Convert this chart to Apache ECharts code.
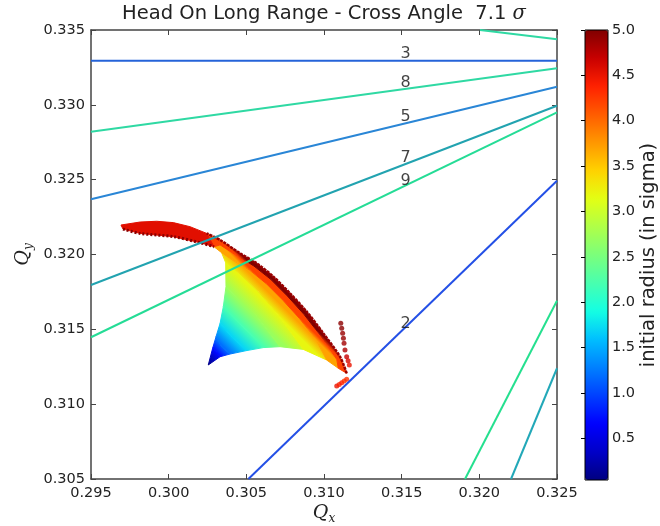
<!DOCTYPE html>
<html>
<head>
<meta charset="utf-8">
<script src="https://cdn.jsdelivr.net/npm/echarts@6/dist/echarts.min.js"></script>
<style>
  html, body { margin: 0; padding: 0; background: #fff; }
  #chart { width: 660px; height: 526px; }
</style>
</head>
<body>
<div id="chart"></div>
<script>
// resonance lines (start / end points in tune space)
const resonanceStartQx = [0.295, 0.295, 0.295, 0.295, 0.295, 0.30513, 0.32004, 0.31908, 0.32204];
const resonanceStartQy = [0.33295, 0.32820, 0.32369, 0.31796, 0.31447, 0.305, 0.335, 0.305, 0.305];
const resonanceEndQx = [0.325, 0.325, 0.325, 0.325, 0.325, 0.325, 0.325, 0.325, 0.325];
const resonanceEndQy = [0.33295, 0.33245, 0.33121, 0.32994, 0.32950, 0.32493, 0.33438, 0.31691, 0.31240];
const resonanceColors = ["#2563d9", "#2fd9a3", "#2a86d6", "#22a3b0", "#25dc96", "#2450e6", "#2fd9a3", "#25e08f", "#22a8b8"];

// order labels
const orderLabels = ["3", "8", "5", "7", "9", "2"];
const orderQx = [0.31526, 0.31526, 0.31526, 0.31526, 0.31526, 0.31526];
const orderQy = [0.33340, 0.33148, 0.32917, 0.32643, 0.32493, 0.31534];

// tune footprint: traced contours of equal initial radius (sigma)
const footprintLevels = [0.05, 0.7, 1.2, 1.7, 2.2, 2.7, 3.2, 3.7, 4.2, 5.0];
const footprintQx = [
  [0.30255],
  [0.30331, 0.30305, 0.30283],
  [0.30395, 0.30341, 0.30305],
  [0.30502, 0.30406, 0.30331],
  [0.30610, 0.30481, 0.30352],
  [0.30717, 0.30567, 0.30459, 0.30369],
  [0.30867, 0.30706, 0.30577, 0.30459, 0.30367],
  [0.31017, 0.30951, 0.30843, 0.30736, 0.30629, 0.30522, 0.30414, 0.30341],
  [0.31092, 0.31082, 0.30979, 0.30871, 0.30764, 0.30657, 0.30549, 0.30442, 0.30331, 0.30292],
  [0.31146, 0.31103, 0.30996, 0.30889, 0.30781, 0.30674, 0.30567, 0.30459, 0.30331, 0.30245]
];
const footprintQy = [
  [0.31262],
  [0.31317, 0.31351, 0.31373],
  [0.31335, 0.31384, 0.31451],
  [0.31358, 0.31451, 0.31540],
  [0.31378, 0.31518, 0.31652],
  [0.31384, 0.31585, 0.31696, 0.31785],
  [0.31366, 0.31596, 0.31752, 0.31870, 0.31945],
  [0.31295, 0.31427, 0.31571, 0.31694, 0.31805, 0.31894, 0.31961, 0.32012],
  [0.31240, 0.31300, 0.31456, 0.31600, 0.31723, 0.31834, 0.31923, 0.31990, 0.32064, 0.32052],
  [0.31206, 0.31317, 0.31473, 0.31618, 0.31741, 0.31852, 0.31941, 0.32008, 0.32097, 0.32141]
];

// folded high-amplitude tail (upper left)
const tailQx = [0.30245, 0.30137, 0.30030, 0.29923, 0.29816, 0.29693, 0.29706, 0.29816, 0.30030, 0.30202, 0.30292];
const tailQy = [0.32141, 0.32186, 0.32213, 0.32222, 0.32217, 0.32197, 0.32170, 0.32141, 0.32119, 0.32079, 0.32052];
const tailRadius = 4.55;

// stray particles near the right tip
const armQx = [0.31108, 0.31114, 0.31120, 0.31125, 0.31129, 0.31135, 0.31146, 0.31155, 0.31163, 0.31082, 0.31098, 0.31114, 0.31130, 0.31146];
const armQy = [0.31540, 0.31507, 0.31473, 0.31440, 0.31407, 0.31362, 0.31317, 0.31290, 0.31262, 0.31121, 0.31132, 0.31143, 0.31155, 0.31166];
const armRadius = [4.95, 4.95, 4.9, 4.9, 4.85, 4.8, 4.7, 4.6, 4.5, 4.5, 4.4, 4.4, 4.3, 4.3];

// axis ticks
const colorbarTicks = [0.5, 1.0, 1.5, 2.0, 2.5, 3.0, 3.5, 4.0, 4.5, 5.0];
const cbMin = 0.04;
const cbMax = 5;

const jet = ["#000080", "#0000c8", "#0000ff", "#0040ff", "#0080ff", "#00bfff", "#14ffe3", "#48ffaf",
  "#7bff7b", "#afff48", "#e3ff14", "#ffd200", "#ff9700", "#ff5c00", "#ff2100", "#c80000", "#800000"];
const jetColor = (r) => echarts.color.lerp(Math.min(1, Math.max(0, (r - cbMin) / (cbMax - cbMin))), jet);

const chart = echarts.init(document.getElementById("chart"));

const curves = footprintQx.map((xs, i) => xs.map((x, k) => [x, footprintQy[i][k]]));
const tailPts = tailQx.map((x, k) => [x, tailQy[k]]);
const outerEdge = curves[curves.length - 1];
const tailLower = tailPts.slice(6);
const armDots = armQx.map((x, k) => [x, armQy[k], armRadius[k]]);

// shading direction across the contours (screen up-right)
const ux = Math.SQRT1_2, uy = -Math.SQRT1_2;
function meanProj(px) {
  let s = 0;
  px.forEach((p) => { s += p[0] * ux + p[1] * uy; });
  return s / px.length;
}

const axisFont = "DejaVu Sans";
const frame = { show: true, lineStyle: { color: "#444", width: 1.5 } };
const ticks = { show: true, inside: true, length: 5, lineStyle: { color: "#444", width: 1 } };
const nameRich = {
  q: { fontFamily: "DejaVu Serif", fontStyle: "italic", fontSize: 19, color: "#222", lineHeight: 24 },
  s: { fontFamily: "DejaVu Serif", fontStyle: "italic", fontSize: 12, color: "#222", lineHeight: 12, verticalAlign: "bottom" }
};

const series = [
  {
    type: "custom",
    xAxisIndex: 0,
    yAxisIndex: 0,
    z: 1,
    silent: true,
    encode: { x: 0, y: 1 },
    data: footprintLevels.slice(1).map((r, i) => [curves[i][0][0], curves[i][0][1], r, i]),
    renderItem(params, api) {
      const i = api.value(3);
      const inner = curves[i].map((p) => api.coord(p));
      const outer = curves[i + 1].map((p) => api.coord(p));
      const a = meanProj(inner), b = meanProj(outer);
      const c0 = jetColor(footprintLevels[i]);
      const c1 = jetColor(footprintLevels[i + 1]);
      const fill = new echarts.graphic.LinearGradient(ux * a, uy * a, ux * b, uy * b,
        [{ offset: 0, color: c0 }, { offset: 1, color: c1 }], true);
      return {
        type: "polygon",
        shape: { points: inner.concat(outer.slice().reverse()) },
        style: { fill: fill, stroke: fill, lineWidth: 1 }
      };
    }
  },
  {
    type: "custom",
    xAxisIndex: 0,
    yAxisIndex: 0,
    z: 1,
    silent: true,
    encode: { x: 0, y: 1 },
    data: [[tailPts[0][0], tailPts[0][1], tailRadius]],
    renderItem(params, api) {
      const color = jetColor(api.value(2));
      return {
        type: "polygon",
        shape: { points: tailPts.map((p) => api.coord(p)) },
        style: { fill: color, stroke: color, lineWidth: 1 }
      };
    }
  },
  {
    type: "scatter",
    xAxisIndex: 0,
    yAxisIndex: 0,
    z: 2,
    silent: true,
    symbolSize: 5,
    data: armDots
  },
  {
    type: "line",
    xAxisIndex: 0,
    yAxisIndex: 0,
    z: 2,
    silent: true,
    symbol: "none",
    smooth: 0.3,
    lineStyle: { color: "#9a0000", width: 2.5, type: [3, 1] },
    data: outerEdge
  },
  {
    type: "line",
    xAxisIndex: 0,
    yAxisIndex: 0,
    z: 2,
    silent: true,
    symbol: "none",
    smooth: 0.3,
    lineStyle: { color: "#8a0000", width: 3, type: [2, 2] },
    data: tailLower
  }
];

resonanceStartQx.forEach((x, i) => {
  series.push({
    type: "line",
    xAxisIndex: 0,
    yAxisIndex: 0,
    z: 3,
    silent: true,
    symbol: "none",
    lineStyle: { color: resonanceColors[i], width: 2 },
    data: [[x, resonanceStartQy[i]], [resonanceEndQx[i], resonanceEndQy[i]]]
  });
});

series.push({
  type: "scatter",
  xAxisIndex: 0,
  yAxisIndex: 0,
  z: 4,
  silent: true,
  symbolSize: 0,
  label: {
    show: true,
    position: "inside",
    formatter: (p) => p.name,
    color: "#111",
    fontSize: 16,
    fontFamily: axisFont
  },
  data: orderLabels.map((t, i) => ({ name: t, value: [orderQx[i], orderQy[i]] }))
});

const option = {
  animation: false,
  backgroundColor: "#fff",
  textStyle: { fontFamily: axisFont },
  grid: [
    { left: 91, top: 30, width: 466, height: 449, outerBoundsMode: "none", containLabel: false },
    { left: 585, top: 30, width: 23, height: 450, outerBoundsMode: "none", containLabel: false, show: true, borderColor: "#000", borderWidth: 1, backgroundColor: "transparent", z: 10 }
  ],
  graphic: [
    {
      type: "text",
      x: 324,
      y: 14,
      style: {
        text: "Head On Long Range - Cross Angle  7.1 {s|σ}",
        fontFamily: axisFont,
        fontSize: 19.5,
        fill: "#222",
        align: "center",
        verticalAlign: "middle",
        rich: { s: { fontFamily: "DejaVu Serif", fontStyle: "italic", fontSize: 19.5, fill: "#222" } }
      }
    }
  ],
  xAxis: [
    {
      gridIndex: 0,
      type: "value",
      min: 0.295,
      max: 0.325,
      interval: 0.005,
      axisLine: frame,
      axisTick: ticks,
      splitLine: { show: false },
      axisLabel: { formatter: (v) => v.toFixed(3), color: "#222", fontSize: 14.5, margin: 7, fontFamily: axisFont },
      name: "{q|Q}{s|x}",
      nameLocation: "middle",
      nameGap: 22,
      nameMoveOverlap: false,
      nameTextStyle: { rich: nameRich }
    },
    {
      gridIndex: 0,
      type: "value",
      position: "top",
      min: 0.295,
      max: 0.325,
      interval: 0.005,
      axisLine: frame,
      axisTick: ticks,
      splitLine: { show: false },
      axisLabel: { show: false }
    },
    {
      gridIndex: 1,
      type: "value",
      min: 0,
      max: 1,
      show: false
    }
  ],
  yAxis: [
    {
      gridIndex: 0,
      type: "value",
      min: 0.305,
      max: 0.335,
      interval: 0.005,
      axisLine: frame,
      axisTick: ticks,
      splitLine: { show: false },
      axisLabel: { formatter: (v) => v.toFixed(3), color: "#222", fontSize: 14.5, margin: 6, fontFamily: axisFont },
      name: "{q|Q}{s|y}",
      nameLocation: "middle",
      nameGap: 56,
      nameRotate: 90,
      nameMoveOverlap: false,
      nameTextStyle: { rich: nameRich }
    },
    {
      gridIndex: 0,
      type: "value",
      position: "right",
      min: 0.305,
      max: 0.335,
      interval: 0.005,
      axisLine: frame,
      axisTick: ticks,
      splitLine: { show: false },
      axisLabel: { show: false }
    },
    {
      gridIndex: 1,
      type: "value",
      position: "right",
      min: cbMin,
      max: cbMax,
      axisLine: { show: false },
      axisTick: { show: true, inside: true, length: 4, customValues: colorbarTicks, lineStyle: { color: "#000" } },
      splitLine: { show: false },
      axisLabel: { customValues: colorbarTicks, formatter: (v) => v.toFixed(1), color: "#222", fontSize: 14.5, margin: 4, fontFamily: axisFont },
      name: "initial radius (in sigma)",
      nameLocation: "middle",
      nameGap: 31,
      nameRotate: 90,
      nameMoveOverlap: false,
      nameTextStyle: { fontSize: 19.5, color: "#222", fontFamily: axisFont }
    }
  ],
  visualMap: {
    type: "continuous",
    min: cbMin,
    max: cbMax,
    dimension: 2,
    seriesIndex: [2],
    inRange: { color: jet },
    orient: "vertical",
    left: 585,
    top: 30,
    itemWidth: 23,
    itemHeight: 450,
    calculable: false,
    hoverLink: false,
    padding: 0,
    text: null
  },
  series: series
};

chart.setOption(option);
</script>
</body>
</html>
